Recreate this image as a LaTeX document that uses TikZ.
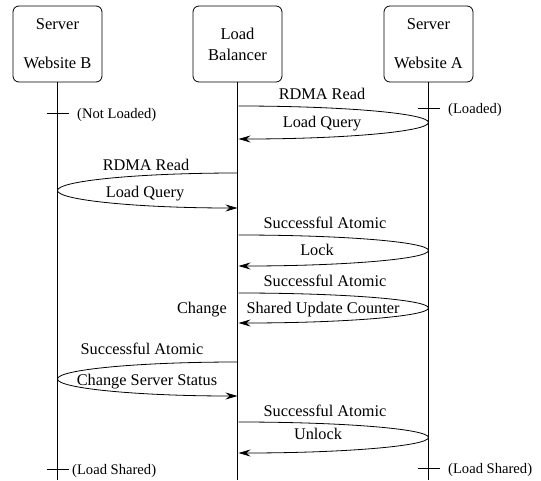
\documentclass[tikz,border=0pt]{standalone}
\usepackage{fontspec}
\setmainfont{Liberation Serif}
\usetikzlibrary{arrows.meta}
\begin{document}
\begin{tikzpicture}[x=1pt,y=-1pt,
  actor/.style={draw, rounded corners=6pt, minimum width=89pt, minimum height=76pt, align=center, font=\fontsize{16.5}{20}\selectfont, line width=0.8pt},
  life/.style={line width=1.3pt},
  tick/.style={line width=1pt},
  msg/.style={line width=0.8pt},
  msgarrow/.style={msg, -{Stealth[length=12pt,width=7pt,inset=4pt]}},
  lbl/.style={font=\fontsize{16.3}{19}\selectfont, inner sep=0pt, anchor=base, yshift=-5.5pt},
  note/.style={font=\fontsize{14.6}{17}\selectfont, inner sep=0pt, anchor=base west, yshift=-5pt},
]
\useasboundingbox (0,0) rectangle (541,480);
% actors
\node[actor] (B) at (57.5,44) {Server\\[19pt]Website B};
\node[actor] (LB) at (237.5,44) {Load\\[1pt]Balancer};
\node[actor] (A) at (428.5,44) {Server\\[19pt]Website A};
% lifelines
\coordinate (Bend) at (57.5,480);
\coordinate (LBend) at (237.5,480);
\coordinate (Aend) at (428.5,480);
\draw[life] (B.south) -- (Bend);
\draw[life] (LB.south) -- (LBend);
\draw[life] (A.south) -- (Aend);
% state ticks
\coordinate (tB1) at (57.5,113);
\coordinate (tA1) at (428.5,108);
\coordinate (tB2) at (57.5,469);
\coordinate (tA2) at (428.5,468);
\draw[tick] ([xshift=-11pt]tB1) -- ([xshift=11pt]tB1);
\draw[tick] ([xshift=-11pt]tA1) -- ([xshift=11pt]tA1);
\draw[tick] ([xshift=-11pt]tB2) -- ([xshift=11pt]tB2);
\draw[tick] ([xshift=-11pt]tA2) -- ([xshift=11pt]tA2);
\node[note] (nB1) at (77,113) {(Not Loaded)};
\node[note] (nA1) at (448,108) {(Loaded)};
\node[note] (nB2) at (72,469) {(Load Shared)};
\node[note] (nA2) at (448,468) {(Load Shared)};
% message 1: LB -> A
\coordinate (m1) at (238.5,106);
\draw[msgarrow] (m1) arc[start angle=-90, end angle=90, x radius=190, y radius=16.5];
\node[lbl] (l1a) at (322,94) {RDMA Read};
\node[lbl] (l1b) at (322,122) {Load Query};
% message 2: LB -> B
\coordinate (m2) at (237.5,173);
\draw[msgarrow] (m2) arc[start angle=-90, end angle=-270, x radius=180, y radius=17.5];
\node[lbl] (l2a) at (146,165) {RDMA Read};
\node[lbl] (l2b) at (145,192) {Load Query};
% message 3: LB -> A
\coordinate (m3) at (238.5,235);
\draw[msgarrow] (m3) arc[start angle=-90, end angle=90, x radius=190, y radius=15.5];
\node[lbl] (l3a) at (325,223) {Successful Atomic};
\node[lbl] (l3b) at (317,250) {Lock};
% message 4: LB -> A
\coordinate (m4) at (238.5,293);
\draw[msgarrow] (m4) arc[start angle=-90, end angle=90, x radius=190, y radius=15];
\node[lbl] (l4a) at (325,281) {Successful Atomic};
\node[lbl] (l4b) at (323,308) {Shared Update Counter};
\node[lbl, anchor=base east] (l4c) at (227,308) {Change};
% message 5: LB -> B
\coordinate (m5) at (237.5,362);
\draw[msgarrow] (m5) arc[start angle=-90, end angle=-270, x radius=180, y radius=17];
\node[lbl] (l5a) at (142,349) {Successful Atomic};
\node[lbl] (l5b) at (147,380) {Change Server Status};
% message 6: LB -> A
\coordinate (m6) at (238.5,422);
\draw[msgarrow] (m6) arc[start angle=-90, end angle=90, x radius=190, y radius=15.5];
\node[lbl] (l6a) at (325,411) {Successful Atomic};
\node[lbl] (l6b) at (318,434) {Unlock};
\end{tikzpicture}
\end{document}
